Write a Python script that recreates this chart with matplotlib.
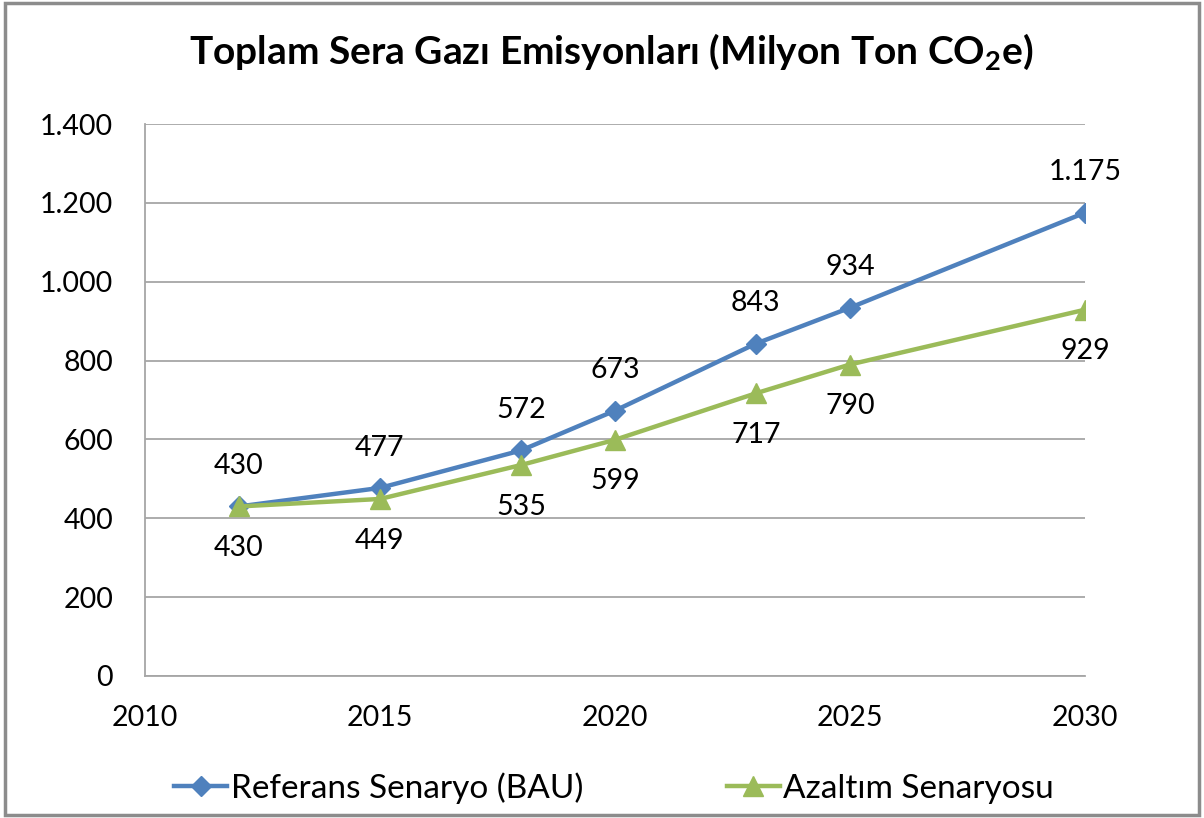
import numpy as np
import matplotlib
matplotlib.use('Agg')
import matplotlib.pyplot as plt
from matplotlib import ticker
from matplotlib.patches import Rectangle

plt.rcParams['font.family'] = ['Lato', 'DejaVu Sans']
plt.rcParams['mathtext.default'] = 'regular'

years = [2012, 2015, 2018, 2020, 2023, 2025, 2030]
bau = [430, 477, 572, 673, 843, 934, 1175]
azaltim = [430, 449, 535, 599, 717, 790, 929]
bau_name = 'Referans Senaryo (BAU)'
az_name = 'Azaltım Senaryosu'
title = r'Toplam Sera Gazı Emisyonları (Milyon Ton CO$_{2}$e)'

blue = '#4F81BD'
green = '#9BBB59'
grid = '#A6A6A6'

fig = plt.figure(figsize=(12.04, 8.18), dpi=100)
fig.patches.append(Rectangle((0.004, 0.004), 0.992, 0.992, transform=fig.transFigure,
                             fill=False, edgecolor='#8C8C8C', lw=2.5))
ax = fig.add_axes([0.1204, 0.1736, 0.7807, 0.6748])

ax.plot(years, bau, color=blue, lw=3.2, marker='D', ms=10, label=bau_name, zorder=3)
ax.plot(years, azaltim, color=green, lw=3.2, marker='^', ms=14, label=az_name, zorder=4)

for x, y in zip(years, bau):
    ax.annotate(f'{y:,}'.replace(',', '.'), (x, y), xytext=(0, 29), textcoords='offset points',
                ha='center', va='center', fontsize=20.5)
for x, y in zip(years, azaltim):
    ax.annotate(f'{y:,}'.replace(',', '.'), (x, y), xytext=(0, -30), textcoords='offset points',
                ha='center', va='center', fontsize=20.5)

ax.set_xlim(2010, 2030)
ax.set_ylim(0, 1400)
ax.set_xticks([2010, 2015, 2020, 2025, 2030])
ax.set_yticks(np.arange(0, 1401, 200))
ax.yaxis.set_major_formatter(ticker.FuncFormatter(lambda v, p: f'{int(v):,}'.replace(',', '.')))
ax.tick_params(axis='both', length=0, labelsize=20.5)
ax.tick_params(axis='y', pad=23)
ax.tick_params(axis='x', pad=21)
ax.grid(axis='y', color=grid, lw=1.3)
ax.set_axisbelow(True)
for s in ['top', 'right']:
    ax.spines[s].set_visible(False)
for s in ['left', 'bottom']:
    ax.spines[s].set_color(grid)
    ax.spines[s].set_linewidth(1.3)

fig.text(0.508, 0.936, title, ha='center', va='center', fontsize=28, fontweight='bold')

fig.legend(loc='center', bbox_to_anchor=(0.51, 0.037), ncol=2, frameon=False,
           fontsize=24, handlelength=1.6, handletextpad=0.1, columnspacing=4.3,
           markerscale=1.0)

fig.savefig('out.png', dpi=100)
